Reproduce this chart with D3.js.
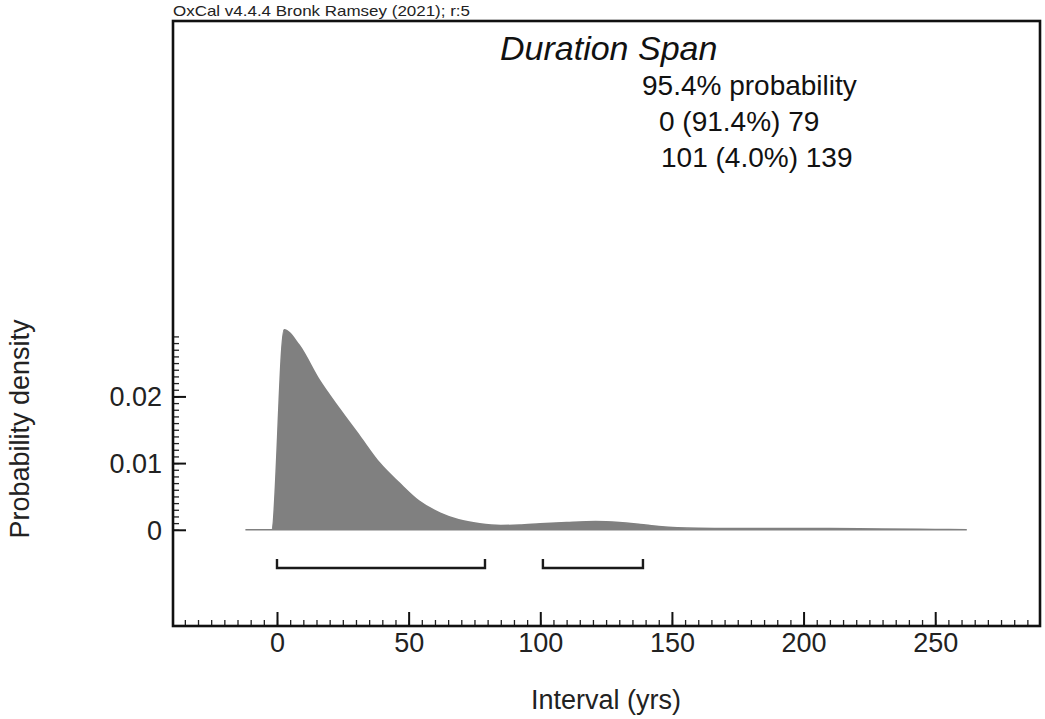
<!DOCTYPE html>
<html>
<head>
<meta charset="utf-8">
<script src="https://cdn.jsdelivr.net/npm/d3@7"></script>
<style>
  body { margin: 0; background: #fff; }
  svg { display: block; font-family: "Liberation Sans", Arial, sans-serif; }
</style>
</head>
<body>
<svg id="chart" width="1045" height="719"></svg>
<script>
// Posterior density for the span (years)
const spanYears = [-12, -2, 2.7, 8.4, 16, 24, 31.5, 39, 46.5, 54, 62, 69, 77, 85, 92, 100, 110, 121, 130, 138, 145, 152, 160, 175, 190, 210, 230, 250, 262];
const spanDensity = [0, 0, 0.030, 0.0277, 0.0225, 0.018, 0.014, 0.010, 0.007, 0.0043, 0.0025, 0.0015, 0.0009, 0.00065, 0.0007, 0.0009, 0.0011, 0.00125, 0.0011, 0.0008, 0.0005, 0.0003, 0.00022, 0.0002, 0.0002, 0.00018, 0.0001, 0.00005, 0];

// 95.4% ranges
const rangeFrom = [0, 101];
const rangeTo = [79, 139];

const xMajor = [0, 50, 100, 150, 200, 250];
const xMinor = d3.range(-35, 290, 5);
const yMajor = [0, 0.01, 0.02];
const yMinor = d3.range(0, 0.0295, 0.001);

const summaryLines = ["95.4% probability", "0 (91.4%) 79", "101 (4.0%) 139"];

const svg = d3.select("#chart");

const plot = { left: 173, right: 1040, top: 21, bottom: 626 };

const x = d3.scaleLinear().domain([-39.5, 289.8]).range([plot.left, plot.right]);
const y = d3.scaleLinear().domain([-0.01443, 0.0763]).range([plot.bottom, plot.top]);

const pts = spanYears.map((v, i) => ({ yr: v, p: spanDensity[i] }));

// Density area
const area = d3.area()
  .x(d => x(d.yr))
  .y0(y(0))
  .y1(d => y(d.p))
  .curve(d3.curveMonotoneX);

svg.append("path")
  .datum(pts)
  .attr("d", area)
  .attr("fill", "#808080")
  .attr("stroke", "#808080")
  .attr("stroke-width", 1.5);

// Range brackets
const bracketY = 568;
rangeFrom.forEach((a, i) => {
  const b = rangeTo[i];
  svg.append("path")
    .attr("d", `M${x(a)},${bracketY - 9}V${bracketY}H${x(b)}V${bracketY - 9}`)
    .attr("fill", "none")
    .attr("stroke", "#1a1a1a")
    .attr("stroke-width", 2.4);
});

// X axis (ticks point inward)
const xAxisMinor = svg.append("g")
  .attr("transform", `translate(0,${plot.bottom})`)
  .call(d3.axisBottom(x).tickValues(xMinor).tickSize(-6).tickFormat(""));
xAxisMinor.select(".domain").remove();
xAxisMinor.selectAll("line").attr("stroke", "#222").attr("stroke-width", 1.3);

const xAxis = svg.append("g")
  .attr("transform", `translate(0,${plot.bottom})`)
  .call(d3.axisBottom(x).tickValues(xMajor).tickSize(-14).tickFormat(d3.format("d")));
xAxis.select(".domain").remove();
xAxis.selectAll("line").attr("stroke", "#111").attr("stroke-width", 2);
xAxis.selectAll("text")
  .attr("y", 26)
  .attr("dy", 0)
  .attr("fill", "#222")
  .style("font-size", "27px");

// Y axis
const yAxisMinor = svg.append("g")
  .attr("transform", `translate(${plot.left},0)`)
  .call(d3.axisLeft(y).tickValues(yMinor).tickSize(-6).tickFormat(""));
yAxisMinor.select(".domain").remove();
yAxisMinor.selectAll("line").attr("stroke", "#222").attr("stroke-width", 1.3);

const yAxis = svg.append("g")
  .attr("transform", `translate(${plot.left},0)`)
  .call(d3.axisLeft(y).tickValues(yMajor).tickSize(-13).tickFormat(d => d === 0 ? "0" : d3.format(".2f")(d)));
yAxis.select(".domain").remove();
yAxis.selectAll("line").attr("stroke", "#111").attr("stroke-width", 2);
yAxis.selectAll("text")
  .attr("x", -11)
  .attr("dy", "0.35em")
  .attr("fill", "#222")
  .style("font-size", "27px");

// Frame
svg.append("rect")
  .attr("x", plot.left)
  .attr("y", plot.top)
  .attr("width", plot.right - plot.left)
  .attr("height", plot.bottom - plot.top)
  .attr("fill", "none")
  .attr("stroke", "#111")
  .attr("stroke-width", 2.6);

// Header
svg.append("text")
  .attr("x", plot.left)
  .attr("y", 16)
  .attr("fill", "#222")
  .attr("textLength", 297)
  .attr("lengthAdjust", "spacingAndGlyphs")
  .style("font-size", "15px")
  .text("OxCal v4.4.4 Bronk Ramsey (2021); r:5");

// Title and summary
svg.append("text")
  .attr("x", 500)
  .attr("y", 60)
  .attr("fill", "#111")
  .style("font-size", "34px")
  .style("font-style", "italic")
  .text("Duration Span");

const summaryX = [642, 659, 661];
summaryLines.forEach((s, i) => {
  svg.append("text")
    .attr("x", summaryX[i])
    .attr("y", 95 + i * 36)
    .attr("fill", "#111")
    .style("font-size", "28px")
    .text(s);
});

// Axis labels
svg.append("text")
  .attr("x", 606)
  .attr("y", 709)
  .attr("text-anchor", "middle")
  .attr("fill", "#222")
  .style("font-size", "27px")
  .text("Interval (yrs)");

svg.append("text")
  .attr("transform", "translate(29,429) rotate(-90)")
  .attr("text-anchor", "middle")
  .attr("fill", "#222")
  .style("font-size", "27px")
  .text("Probability density");
</script>
</body>
</html>
